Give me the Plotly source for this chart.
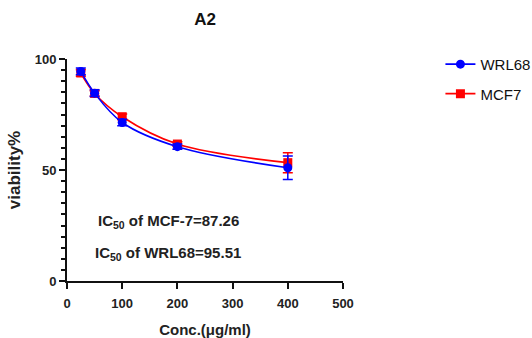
import plotly.graph_objects as go

conc = [25, 50, 100, 200, 400]
wrl68 = [94.4, 84.6, 71.4, 60.5, 51.0]
wrl68_err = [1.5, 1.5, 1.5, 1.2, 5.3]
mcf7 = [93.7, 84.5, 74.0, 61.7, 53.3]
mcf7_err = [1.5, 1.2, 1.2, 1.0, 4.5]
annot_texts = ["IC<sub>50</sub> of MCF-7=87.26", "IC<sub>50</sub> of WRL68=95.51"]
annot_x = [183, 183]
annot_y = [27.0, 12.2]

FONT = "Liberation Sans, Arial, sans-serif"
fig = go.Figure()
fig.add_trace(go.Scatter(
    x=conc, y=mcf7, name="MCF7", mode="lines+markers", line_shape="spline",
    line=dict(color="#ff0000", width=1.6),
    marker=dict(symbol="square", size=9, color="#ff0000"),
    error_y=dict(type="data", array=mcf7_err, color="#ff0000", thickness=1.5, width=5),
    legendgroup="b", legendrank=2))
fig.add_trace(go.Scatter(
    x=conc, y=wrl68, name="WRL68", mode="lines+markers", line_shape="spline",
    line=dict(color="#0000ff", width=1.6),
    marker=dict(symbol="circle", size=9, color="#0000ff"),
    error_y=dict(type="data", array=wrl68_err, color="#0000ff", thickness=1.5, width=5),
    legendgroup="a", legendrank=1))

for t, xx, yy in zip(annot_texts, annot_x, annot_y):
    fig.add_annotation(x=xx, y=yy, xref="x", yref="y", text="<b>" + t + "</b>",
                       showarrow=False, font=dict(family=FONT, size=15, color="#222"))

fig.update_layout(
    width=532, height=338,
    margin=dict(l=66.7, r=188.7, t=59, b=57.3, autoexpand=False),
    plot_bgcolor="white", paper_bgcolor="white",
    font=dict(family=FONT, color="#222"),
    title=dict(text="<b>A2</b>", x=205/532, xanchor="center", y=1-19/338, yanchor="middle",
               font=dict(family=FONT, size=17, color="#111")),
    showlegend=True,
    legend=dict(x=1.353, xref="paper", xanchor="left", y=1.05, yanchor="top",
                traceorder="grouped", tracegroupgap=7,
                font=dict(family=FONT, size=15, color="#111"),
                bgcolor="rgba(0,0,0,0)", itemwidth=30),
)
fig.update_xaxes(range=[0, 500], dtick=100, showline=True, linecolor="#111", linewidth=2,
                 ticks="outside", ticklen=6, tickwidth=2, tickcolor="#111",
                 showgrid=False, zeroline=False, ticklabelstandoff=3,
                 tickfont=dict(family=FONT, size=13, color="#222", weight="bold"),
                 title=dict(text="<b>Conc.(μg/ml)</b>", font=dict(family=FONT, size=15, color="#222"),
                            standoff=16))
fig.update_yaxes(range=[0, 100], dtick=50, showline=True, linecolor="#111", linewidth=2,
                 ticks="outside", ticklen=6, tickwidth=2, tickcolor="#111",
                 minor=dict(dtick=5, ticks="outside", ticklen=4, tickwidth=1.5, tickcolor="#111"),
                 showgrid=False, zeroline=False,
                 tickfont=dict(family=FONT, size=13, color="#222", weight="bold"),
                 title=dict(text="<b>viability%</b>", font=dict(family=FONT, size=17, color="#222"),
                            standoff=10))

fig.write_html("out.html", config={"displayModeBar": False},
               post_script="document.body.style.margin='0';document.body.style.overflow='hidden';")
